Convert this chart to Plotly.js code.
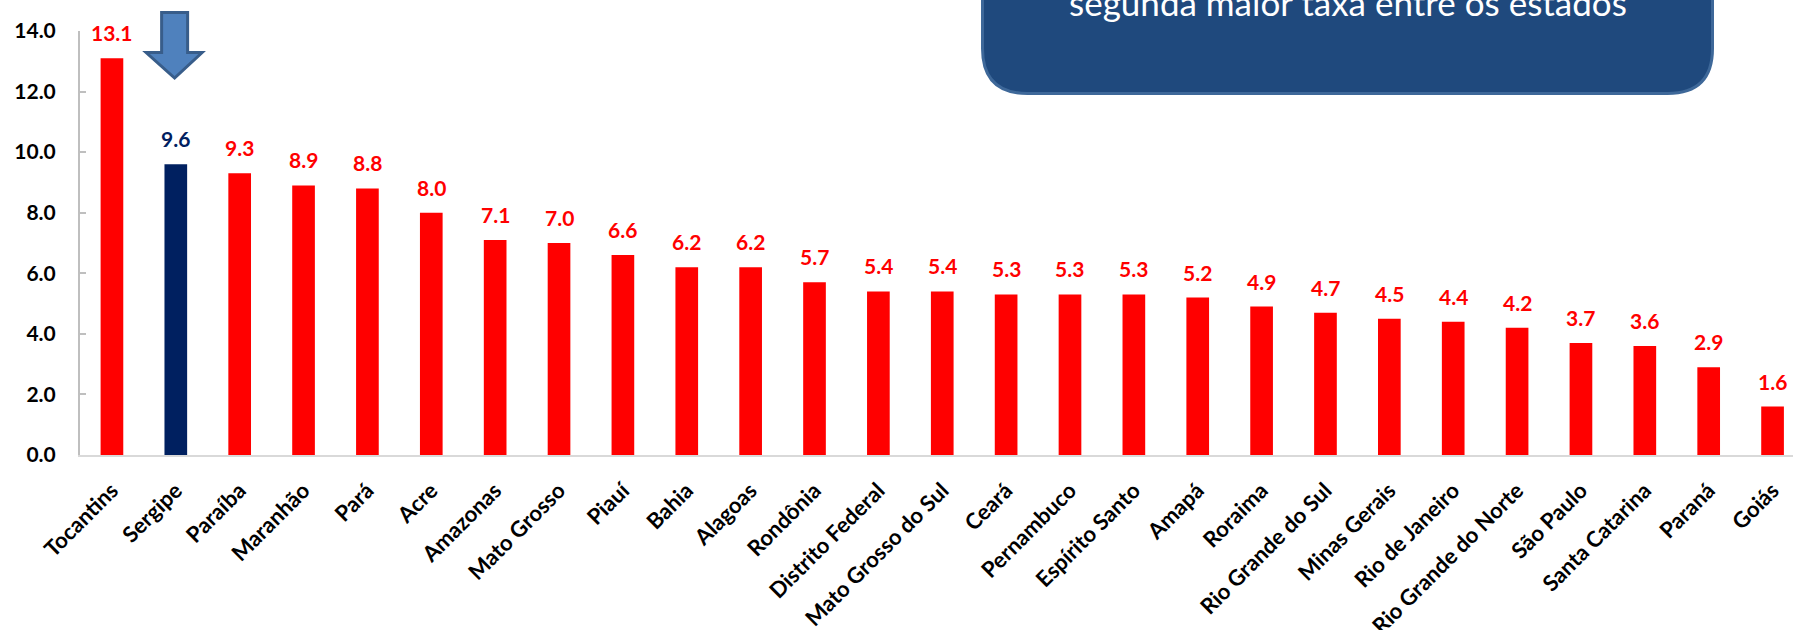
<!DOCTYPE html>
<html>
<head>
<meta charset="utf-8">
<script src="https://cdn.plot.ly/plotly-3.0.1.min.js"></script>
<style>html,body{margin:0;padding:0;background:#fff;}#chart{width:1793px;height:630px;}</style>
</head>
<body>
<div id="chart"></div>
<script>
const states = ["Tocantins","Sergipe","Paraíba","Maranhão","Pará","Acre","Amazonas","Mato Grosso","Piauí","Bahia","Alagoas","Rondônia","Distrito Federal","Mato Grosso do Sul","Ceará","Pernambuco","Espírito Santo","Amapá","Roraima","Rio Grande do Sul","Minas Gerais","Rio de Janeiro","Rio Grande do Norte","São Paulo","Santa Catarina","Paraná","Goiás"];
const rates = [13.1,9.6,9.3,8.9,8.8,8.0,7.1,7.0,6.6,6.2,6.2,5.7,5.4,5.4,5.3,5.3,5.3,5.2,4.9,4.7,4.5,4.4,4.2,3.7,3.6,2.9,1.6];
const highlight = "Sergipe";
const yTicks = [0,2,4,6,8,10,12,14];
const boxText = "segunda maior taxa entre os estados";

const RED = "#FF0000", NAVY = "#002060";
const colors = states.map(s => s === highlight ? NAVY : RED);
const idx = states.map((_, i) => i);

const trace = {
  type: "bar",
  x: idx,
  y: rates,
  width: 0.355,
  marker: {color: colors, line: {width: 0}},
  hoverinfo: "x+y"
};

const valueAnns = rates.map((v, i) => ({
  x: i, y: v, xref: "x", yref: "y",
  text: v.toFixed(1), showarrow: false,
  yanchor: "bottom", yshift: 11,
  font: {family: "Lato, 'DejaVu Sans', sans-serif", size: 21, color: colors[i], weight: 700}
}));

const boxAnn = {
  xref: "paper", yref: "paper", x: (1347.5 - 80) / 1713, y: 1,
  xanchor: "center", yanchor: "bottom", yshift: 6,
  text: boxText, showarrow: false,
  font: {family: "Lato, 'Open Sans', sans-serif", size: 35, color: "#FFFFFF"}
};

const hi = states.indexOf(highlight);

const layout = {
  width: 1793, height: 630,
  margin: {l: 80, r: 0, t: 31, b: 175, pad: 0},
  paper_bgcolor: "#FFFFFF", plot_bgcolor: "#FFFFFF",
  showlegend: false,
  font: {family: "Lato, 'DejaVu Sans', sans-serif", color: "#000000"},
  xaxis: {
    range: [-0.5, 26.32],
    tickmode: "array", tickvals: idx, ticktext: states,
    tickangle: -45,
    tickfont: {family: "Lato, sans-serif", size: 22, color: "#000000", weight: 700},
    ticklabelstandoff: 12,
    showline: true, linecolor: "#D9D9D9", linewidth: 2,
    ticks: "", showgrid: false, zeroline: false,
    fixedrange: true
  },
  yaxis: {
    range: [0, 14],
    tickmode: "array", tickvals: yTicks, ticktext: yTicks.map(v => v.toFixed(1)),
    tickfont: {family: "Lato, sans-serif", size: 21, color: "#000000", weight: 700},
    showline: true, linecolor: "#BFBFBF", linewidth: 2,
    ticks: "inside", ticklen: 6, tickwidth: 2, tickcolor: "#BFBFBF",
    ticklabelstandoff: 18,
    showgrid: false, zeroline: false, fixedrange: true
  },
  shapes: [
    {
      type: "path", layer: "above",
      xref: "paper", yref: "paper", xsizemode: "pixel", ysizemode: "pixel",
      xanchor: 0, yanchor: 1,
      path: "M 902.5,80 L 902.5,-17.5 Q 902.5,-62.5 947.5,-62.5 L 1587.5,-62.5 Q 1632.5,-62.5 1632.5,-17.5 L 1632.5,80 Z",
      fillcolor: "#1F497D", line: {color: "#3E6899", width: 3}
    },
    {
      type: "path", layer: "above",
      xref: "x", yref: "paper", xsizemode: "pixel", ysizemode: "pixel",
      xanchor: hi, yanchor: 1,
      path: "M -14.2,18.5 L 11.8,18.5 L 11.8,-21.5 L 26.3,-21.5 L -1.2,-47 L -29.7,-21.5 L -14.2,-21.5 Z",
      fillcolor: "#4F81BD", line: {color: "#385D8A", width: 3}
    }
  ],
  annotations: valueAnns.concat([boxAnn])
};

Plotly.newPlot("chart", [trace], layout, {displayModeBar: false, staticPlot: true});
</script>
</body>
</html>
